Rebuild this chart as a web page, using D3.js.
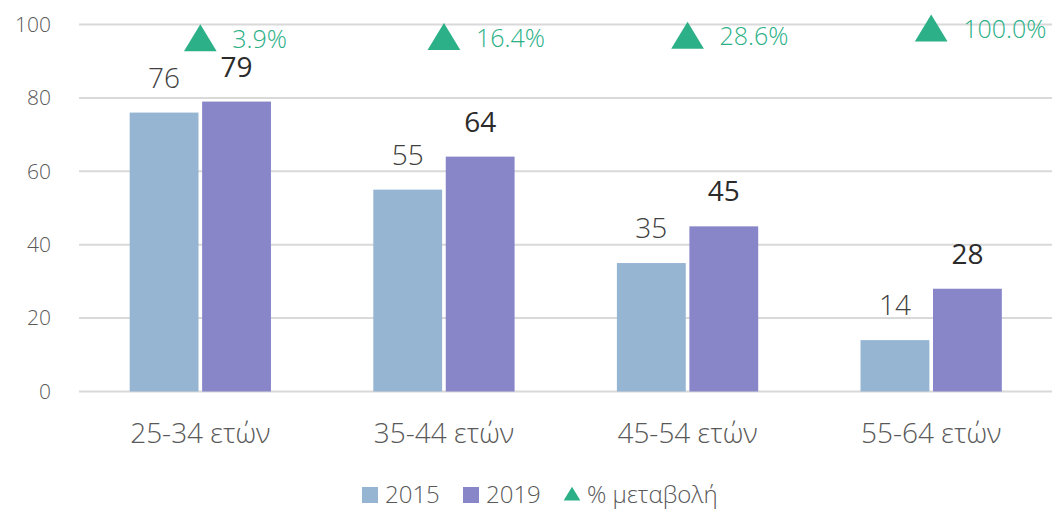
<!DOCTYPE html>
<html>
<head>
<meta charset="utf-8">
<script src="https://cdn.jsdelivr.net/npm/d3@7"></script>
<style>
  body { margin: 0; background: #fff; }
  svg text { font-family: "Open Sans", sans-serif; }
</style>
</head>
<body>
<div id="chart"></div>
<script>
// data
const categories = ['25-34 ετών', '35-44 ετών', '45-54 ετών', '55-64 ετών'];
const series = ['2015', '2019'];
const values2015 = [76, 55, 35, 14];
const values2019 = [79, 64, 45, 28];
const pctChange = [3.9, 16.4, 28.6, 100.0];
const yTicks = [0, 20, 40, 60, 80, 100];
const legendLabels = ['2015', '2019', '% μεταβολή'];

const colors = { '2015': '#95b5d3', '2019': '#8886c8', pct: '#2bb087' };

const width = 1052, height = 513;
const svg = d3.select('#chart').append('svg').attr('width', width).attr('height', height);

// scales
const x0 = d3.scaleBand().domain(categories).range([78.5, 1053]).paddingInner(0.42).paddingOuter(0.21);
const x1 = d3.scaleBand().domain(series).range([0, x0.bandwidth()]).paddingInner(0.05);
const y = d3.scaleLinear().domain([0, 100]).range([391.5, 24.5]);
// hidden secondary axis for the % change markers
const y2 = d3.scaleLinear().domain([-3500, 150]).range([391.5, 24.5]);

// gridlines
svg.append('g').selectAll('line').data(yTicks).join('line')
   .attr('x1', 79).attr('x2', 1052)
   .attr('y1', d => y(d)).attr('y2', d => y(d))
   .attr('stroke', '#d9d9d9').attr('stroke-width', 2);

// y axis labels
svg.append('g').selectAll('text').data(yTicks).join('text')
   .attr('x', 51).attr('y', d => y(d)).attr('dy', '0.35em')
   .attr('text-anchor', 'end')
   .style('font-size', '21px').style('font-weight', 300).style('fill', '#595959')
   .text(d => d);

// bars
const rows = categories.map((c, i) => ({ cat: c, '2015': values2015[i], '2019': values2019[i], pct: pctChange[i] }));

const groups = svg.append('g').selectAll('g').data(rows).join('g')
   .attr('transform', d => `translate(${x0(d.cat)},0)`);

groups.selectAll('rect').data(d => series.map(s => ({ s, v: d[s] }))).join('rect')
   .attr('x', d => x1(d.s)).attr('width', x1.bandwidth())
   .attr('y', d => y(d.v)).attr('height', d => y(0) - y(d.v))
   .attr('fill', d => colors[d.s]);

// value labels
groups.selectAll('.val').data(d => series.map(s => ({ s, v: d[s] }))).join('text')
   .attr('class', 'val')
   .attr('x', d => x1(d.s) + x1.bandwidth() / 2)
   .attr('y', d => y(d.v) - 25)
   .attr('text-anchor', 'middle')
   .style('font-size', '28px')
   .style('font-weight', d => d.s === '2019' ? 400 : 300)
   .style('fill', d => d.s === '2019' ? '#2b2b2b' : '#404040')
   .text(d => d.v);

// category labels
svg.append('g').selectAll('text').data(categories).join('text')
   .attr('x', d => x0(d) + x0.bandwidth() / 2).attr('y', 443)
   .attr('text-anchor', 'middle')
   .style('font-size', '28px').style('font-weight', 300).style('fill', '#595959')
   .text(d => d);

// % change markers
const tri = d3.symbol().type(d3.symbolTriangle).size(420);
const centre = d => x0(d.cat) + x0.bandwidth() / 2;
svg.append('g').selectAll('path').data(rows).join('path')
   .attr('d', tri)
   .attr('transform', d => `translate(${centre(d)},${y2(d.pct) + 3}) scale(1.05,1)`)
   .attr('fill', colors.pct);

svg.append('g').selectAll('text').data(rows).join('text')
   .attr('x', d => centre(d) + 32).attr('y', d => y2(d.pct))
   .attr('dy', '0.35em')
   .style('font-size', '25px').style('font-weight', 300).style('fill', colors.pct)
   .text(d => d.pct.toFixed(1) + '%');

// legend
const legendX = [362, 463, 564];
const lg = svg.append('g');
lg.selectAll('rect').data(series).join('rect')
   .attr('x', (d, i) => legendX[i]).attr('y', 487).attr('width', 16).attr('height', 16)
   .attr('fill', d => colors[d]);
lg.append('path')
   .attr('d', d3.symbol().type(d3.symbolTriangle).size(110))
   .attr('transform', `translate(${legendX[2] + 8},${496}) scale(1.05,1)`)
   .attr('fill', colors.pct);
lg.selectAll('text').data(legendLabels).join('text')
   .attr('x', (d, i) => legendX[i] + 23).attr('y', 495).attr('dy', '0.35em')
   .style('font-size', '24px').style('font-weight', 300).style('fill', '#595959')
   .text(d => d);
</script>
</body>
</html>
